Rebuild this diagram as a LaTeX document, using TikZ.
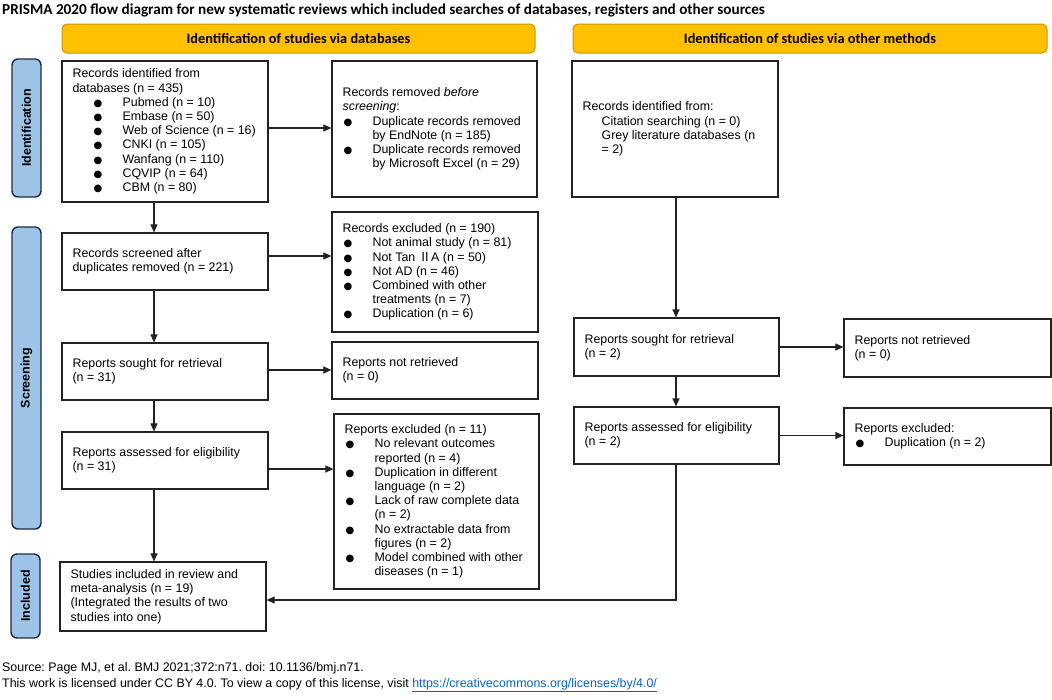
\documentclass[tikz,border=0pt]{standalone}
\usepackage{fontspec}
\setmainfont{Liberation Sans}
\newfontfamily\calib{Carlito}
\newfontfamily\cjk{Noto Sans CJK SC}
\newfontfamily\djv{DejaVu Sans}
\usetikzlibrary{arrows.meta,calc}
\definecolor{gold}{HTML}{FFC000}
\definecolor{goldline}{HTML}{C99700}
\definecolor{sideblue}{HTML}{9DC3E6}
\definecolor{sideline}{HTML}{1F2A44}
\definecolor{urlblue}{HTML}{0563C1}
\definecolor{boxline}{HTML}{222222}
\frenchspacing
\newcommand\bul{{\djv\fontsize{10}{10}\selectfont ●}}
\newcommand\ba{\makebox[50pt][l]{\hspace{21pt}\bul}}
\newcommand\bb{\makebox[30pt][l]{\hspace{1pt}\bul}}
\newcommand\ind{\hspace*{30pt}}
\newcommand\pbox[6]{%
  \pgfmathsetmacro\bw{#4-#2}\pgfmathsetmacro\bh{#5-#3}%
  \node[box, minimum width=\bw pt, minimum height=\bh pt] (#1) at ({(#2+#4)/2},{(#3+#5)/2}) {};
  \node[boxtext] (#1t) at ($(#1.west)+(11,0)$) {#6};}
\begin{document}
\begin{tikzpicture}[x=1pt,y=-1pt,
  box/.style={draw=boxline, line width=1.2pt, fill=white, inner sep=0pt},
  boxtext/.style={anchor=west, inner sep=0pt, align=left, font=\fontsize{12.4}{14.2}\selectfont},
  arr/.style={draw=boxline, line width=1.1pt, -{Triangle[length=8pt,width=7pt]}},
  hdr/.style={draw=goldline, fill=gold, line width=1pt, rounded corners=5pt, font=\calib\bfseries\fontsize{14.3}{16}\selectfont, inner sep=0pt},
  side/.style={draw=sideline, fill=sideblue, line width=1.4pt, rounded corners=6pt, rotate=90, font=\bfseries\fontsize{12.5}{14}\selectfont, inner sep=0pt, minimum height=29pt},
  plain/.style={anchor=west, inner sep=0pt, font=\fontsize{12.4}{14}\selectfont}]
\useasboundingbox (0,0) rectangle (1052,699);

% title
\node[anchor=west, inner sep=0pt, font=\calib\bfseries\fontsize{15.2}{17}\selectfont] (title) at (2,10)
  {PRISMA 2020 flow diagram for new systematic reviews which included searches of databases, registers and other sources};

% headers
\node[hdr, minimum width=473pt, minimum height=29pt] (h1) at (298.5,38.5) {Identification of studies via databases};
\node[hdr, minimum width=474pt, minimum height=29pt] (h2) at (810,38.5) {Identification of studies via other methods};

% side bars
\node[side, minimum width=138pt] (s1) at (26.5,128) {Identification};
\node[side, minimum width=302pt] (s2) at (26.5,378) {Screening};
\node[side, minimum width=84pt] (s3) at (25.5,596) {Included};

% boxes
\pbox{A}{62}{61}{268}{202}{Records identified from\\ databases (n = 435)\\
\ba Pubmed (n = 10)\\ \ba Embase (n = 50)\\ \ba Web of Science (n = 16)\\ \ba CNKI (n = 105)\\
\ba Wanfang (n = 110)\\ \ba CQVIP (n = 64)\\ \ba CBM (n = 80)}
\pbox{B}{332}{61}{537}{197}{Records removed \textit{before}\\ \textit{screening}:\\
\bb Duplicate records removed\\ \ind by EndNote (n = 185)\\ \bb Duplicate records removed\\ \ind by Microsoft Excel (n = 29)}
\pbox{C}{62}{233}{268}{290}{Records screened after\\ duplicates removed (n = 221)}
\pbox{D}{332}{212}{538}{332}{Records excluded (n = 190)\\ \bb Not animal study (n = 81)\\
\bb Not Tan {\cjk Ⅱ}A (n = 50)\\ \bb Not AD (n = 46)\\ \bb Combined with other\\ \ind treatments (n = 7)\\
\bb Duplication (n = 6)}
\pbox{E}{62}{343}{268}{400}{Reports sought for retrieval\\ (n = 31)}
\pbox{F}{332}{342}{538}{399}{Reports not retrieved\\ (n = 0)}
\pbox{G}{62}{432}{268}{489}{Reports assessed for eligibility\\ (n = 31)}
\pbox{H}{334}{414}{539}{589}{Reports excluded (n = 11)\\ \bb No relevant outcomes\\ \ind reported (n = 4)\\
\bb Duplication in different\\ \ind language (n = 2)\\ \bb Lack of raw complete data\\ \ind (n = 2)\\
\bb No extractable data from\\ \ind figures (n = 2)\\ \bb Model combined with other\\ \ind diseases (n = 1)}
\pbox{I}{60}{562}{266}{631}{Studies included in review and\\ meta-analysis (n = 19)\\ (Integrated the results of two\\ studies into one)}
\pbox{J}{572}{61}{778}{197}{Records identified from:\\ \hspace*{19pt}Citation searching (n = 0)\\
\hspace*{19pt}Grey literature databases (n\\ \hspace*{19pt}= 2)}
\pbox{K}{574}{318}{779}{376}{Reports sought for retrieval\\ (n = 2)}
\pbox{L}{844}{319}{1051}{377}{Reports not retrieved\\ (n = 0)}
\pbox{M}{574}{407}{779}{464}{Reports assessed for eligibility\\ (n = 2)}
\pbox{N}{844}{408}{1051}{465}{Reports excluded:\\ \bb Duplication (n = 2)}

% helper coordinates
\coordinate (vx) at (154,0);
\coordinate (vr) at (676,0);
\coordinate (yAB) at (0,128);
\coordinate (yCD) at (0,256);
\coordinate (yEF) at (0,370);
\coordinate (yGH) at (0,469);
\coordinate (yMI) at (0,600);

% connectors
\draw[arr] (A.east |- yAB) -- (B.west |- yAB);
\draw[arr] (A.south -| vx) -- (C.north -| vx);
\draw[arr] (C.east |- yCD) -- (D.west |- yCD);
\draw[arr] (C.south -| vx) -- (E.north -| vx);
\draw[arr] (E.east |- yEF) -- (F.west |- yEF);
\draw[arr] (E.south -| vx) -- (G.north -| vx);
\draw[arr] (G.east |- yGH) -- (H.west |- yGH);
\draw[arr] (G.south -| vx) -- (I.north -| vx);
\draw[arr] (J.south -| vr) -- (K.north -| vr);
\draw[arr] (K.east) -- (L.west |- K.east);
\draw[arr] (K.south -| vr) -- (M.north -| vr);
\draw[arr] (M.east) -- (N.west |- M.east);
\draw[arr] (M.south -| vr) |- (I.east |- yMI);

% footer
\node[plain] (src) at (2,668) {Source: Page MJ, et al. BMJ 2021;372:n71. doi: 10.1136/bmj.n71.};
\node[plain] (lic) at (2,685) {This work is licensed under CC BY 4.0. To view a copy of this license, visit \textcolor{urlblue}{\underline{https://creativecommons.org/licenses/by/4.0/}}};
\end{tikzpicture}
\end{document}
